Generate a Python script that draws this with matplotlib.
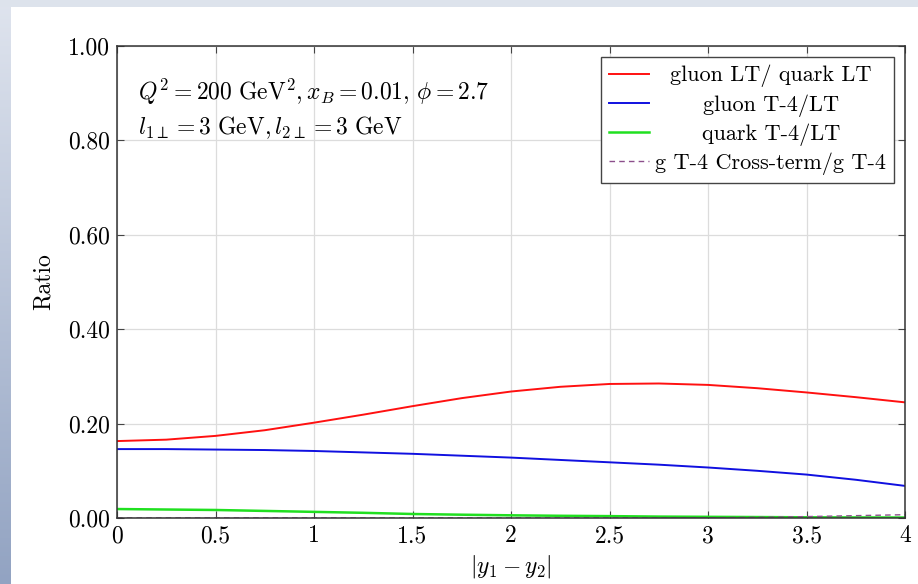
import numpy as np
import matplotlib
matplotlib.use("Agg")
import matplotlib.pyplot as plt

# data
x = [0, 0.25, 0.5, 0.75, 1.0, 1.25, 1.5, 1.75, 2.0, 2.25, 2.5, 2.75, 3.0, 3.25, 3.5, 3.75, 4.0]
gluon_lt_quark_lt = [0.163, 0.166, 0.174, 0.186, 0.202, 0.219, 0.237, 0.254, 0.268, 0.278,
                     0.284, 0.285, 0.282, 0.275, 0.266, 0.256, 0.245]
gluon_t4_lt = [0.146, 0.146, 0.145, 0.144, 0.142, 0.139, 0.136, 0.132, 0.128, 0.123,
               0.118, 0.113, 0.107, 0.100, 0.092, 0.081, 0.068]
quark_t4_lt = [0.019, 0.018, 0.017, 0.015, 0.013, 0.011, 0.0085, 0.007, 0.0057, 0.0047,
               0.004, 0.003, 0.0025, 0.002, 0.0015, 0.0012, 0.001]
g_cross_term = [0, 0, 0, 0, 0, 0, 0, 0, 0, 0, 0, 0, 0.0005, 0.0015, 0.003, 0.005, 0.007]

labels = ["gluon LT/ quark LT", "gluon T-4/LT", "quark T-4/LT", "g T-4 Cross-term/g T-4"]
xticks = [0, 0.5, 1, 1.5, 2, 2.5, 3, 3.5, 4]
xticklabels = ["0", "0.5", "1", "1.5", "2", "2.5", "3", "3.5", "4"]
yticks = [0.0, 0.2, 0.4, 0.6, 0.8, 1.0]
yticklabels = ["0.00", "0.20", "0.40", "0.60", "0.80", "1.00"]

plt.rcParams["font.family"] = "serif"
plt.rcParams["font.serif"] = ["cmr10", "DejaVu Serif"]
plt.rcParams["mathtext.fontset"] = "cm"
plt.rcParams["axes.formatter.use_mathtext"] = True

fig = plt.figure(figsize=(9.18, 5.84), dpi=100)

# screenshot frame: light band on top, gradient band on the left
bg = fig.add_axes([0, 0, 1, 1], zorder=-10)
bg.axis("off")
bg.set_xlim(0, 918)
bg.set_ylim(584, 0)
bg.add_patch(plt.Rectangle((0, 0), 918, 7, color="#dde3ec", lw=0))
grad = np.linspace(0, 1, 256).reshape(-1, 1)
cmap = matplotlib.colors.LinearSegmentedColormap.from_list("frame", ["#dfe4ee", "#92a3c2"])
bg.imshow(grad, extent=(0, 11, 584, 0), aspect="auto", cmap=cmap)

ax = fig.add_axes([0.1275, 0.113, 0.986 - 0.1275, 0.9212 - 0.113])
ax.plot(x, gluon_lt_quark_lt, color="#ff1010", lw=1.4, label=labels[0])
ax.plot(x, gluon_t4_lt, color="#1010e0", lw=1.4, label=labels[1])
ax.plot(x, quark_t4_lt, color="#20e020", lw=1.8, label=labels[2])
ax.plot(x, g_cross_term, color="#8c4f8c", lw=1.0, ls=(0, (4, 3)), label=labels[3])

ax.set_xlim(0, 4)
ax.set_ylim(0, 1)
ax.set_xticks(xticks)
ax.set_xticklabels(xticklabels)
ax.set_yticks(yticks)
ax.set_yticklabels(yticklabels)
ax.tick_params(direction="in", top=True, right=True, length=5, color="#444444",
               labelsize=17, pad=5)
ax.grid(True, color="#dcdcdc", lw=0.9)
ax.set_axisbelow(True)
for sp in ax.spines.values():
    sp.set_color("#333333")
    sp.set_linewidth(1.1)

ax.set_xlabel(r"$|y_1 - y_2|$", fontsize=17, labelpad=4)
ax.set_ylabel("Ratio", fontsize=17, labelpad=10)

ax.text(0.027, 0.902, r"$Q^2 = 200\ \mathrm{GeV}^2, x_B = 0.01,\, \phi = 2.7$",
        transform=ax.transAxes, fontsize=17, va="center")
ax.text(0.027, 0.828, r"$l_{1\perp} = 3\ \mathrm{GeV}, l_{2\perp} = 3\ \mathrm{GeV}$",
        transform=ax.transAxes, fontsize=17, va="center")

leg = ax.legend(loc="upper right", fontsize=16, handlelength=1.8, handletextpad=0.3,
                labelspacing=0.3, borderpad=0.35, borderaxespad=0.5,
                fancybox=False, framealpha=1, edgecolor="#444444")
leg.get_frame().set_linewidth(1.0)

# center the legend entries like pgfplots does
fig.canvas.draw()
texts = leg.get_texts()
widths = [t.get_window_extent().width for t in texts]
wmax = max(widths)
for t, w in zip(texts, widths):
    t.set_x((wmax - w) / 2)

fig.savefig("out.png", dpi=100)
